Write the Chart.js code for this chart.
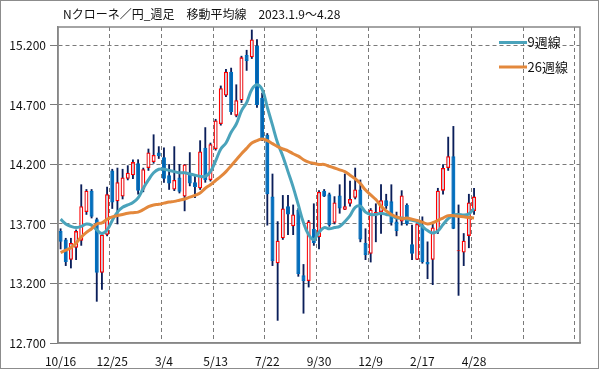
<!DOCTYPE html>
<html>
<head>
<meta charset="utf-8">
<script src="https://cdn.jsdelivr.net/npm/chart.js@4.4.1/dist/chart.umd.min.js"></script>
<style>
html,body{margin:0;padding:0;background:#fff;}
#wrap{width:599px;height:369px;position:relative;}
</style>
</head>
<body>
<div id="wrap"><canvas id="c" width="599" height="369"></canvas></div>
<script>
const titleText = 'Nクローネ／円_週足　移動平均線　2023.1.9～4.28';
const categories = ['10/16','10/23','10/30','11/6','11/13','11/20','11/27','12/4','12/11','12/18',
'12/25','1/1','1/8','1/15','1/22','1/29','2/5','2/12','2/19','2/26',
'3/4','3/11','3/18','3/25','4/1','4/8','4/15','4/22','4/29','5/6',
'5/13','5/20','5/27','6/3','6/10','6/17','6/24','7/1','7/8','7/15',
'7/22','7/29','8/5','8/12','8/19','8/26','9/2','9/9','9/16','9/23',
'9/30','10/7','10/14','10/21','10/28','11/4','11/11','11/18','11/25','12/2',
'12/9','12/16','12/23','12/30','1/6','1/13','1/20','1/27','2/3','2/10',
'2/17','2/24','3/2','3/9','3/16','3/23','3/30','4/6','4/13','4/20',
'4/28'];
const emptySlots = 20;
const yTicks = [12.7, 13.2, 13.7, 14.2, 14.7, 15.2];
const seriesNames = ['9週線', '26週線'];

const opens = [13.64,13.57,13.40,13.50,13.56,13.80,13.98,13.74,13.29,13.61,
14.15,13.89,13.93,14.08,14.11,14.21,13.99,14.17,14.22,14.30,
14.26,14.11,13.99,14.09,13.93,14.12,14.05,14.00,14.34,14.07,
14.33,14.54,14.78,14.98,14.61,14.74,15.12,15.10,15.20,14.76,
14.45,13.93,13.37,13.58,13.85,13.68,13.82,13.27,13.22,13.66,
13.59,13.98,13.95,13.71,13.94,13.82,13.87,13.92,13.99,13.54,
13.45,13.78,13.80,13.90,13.89,13.72,13.72,13.86,13.53,13.40,
13.69,13.38,13.40,13.64,13.98,14.17,14.27,13.47,13.46,13.60,
13.81];
const highs = [13.66,13.58,13.58,13.65,14.03,13.99,13.99,13.75,13.61,14.01,
14.16,14.17,14.16,14.19,14.24,14.24,14.17,14.33,14.45,14.35,
14.34,14.20,14.35,14.20,14.20,14.30,14.10,14.40,14.51,14.38,
14.58,14.86,15.00,15.01,14.87,15.11,15.16,15.33,15.25,14.80,
14.46,14.12,13.72,13.94,13.94,13.86,13.83,13.36,13.73,13.87,
13.98,13.99,13.96,13.93,14.03,14.12,14.06,14.17,14.07,13.66,
13.83,13.87,14.03,13.95,14.03,13.80,13.98,13.87,13.69,13.70,
13.76,13.55,13.70,14.00,14.20,14.43,14.52,13.86,13.62,13.95,
14.00];
const lows = [13.49,13.35,13.33,13.40,13.52,13.78,13.75,13.05,13.15,13.60,
13.83,13.70,13.91,14.07,14.08,13.95,13.97,14.15,14.21,14.25,
14.05,13.99,13.98,13.96,13.81,14.02,13.92,13.99,14.05,14.06,
14.32,14.53,14.77,14.62,14.60,14.72,14.99,15.09,14.68,14.40,
13.69,13.35,12.89,13.57,13.61,13.61,13.26,12.95,13.17,13.52,
13.49,13.93,13.68,13.70,13.79,13.82,13.85,13.91,13.55,13.40,
13.38,13.55,13.62,13.83,13.69,13.60,13.69,13.69,13.40,13.40,
13.37,13.24,13.19,13.62,13.95,14.15,13.66,13.10,13.35,13.50,
13.78];
const closes = [13.55,13.38,13.54,13.64,13.85,13.98,13.76,13.29,13.61,13.95,
13.88,14.05,14.09,14.13,14.22,13.98,14.16,14.30,14.28,14.27,
14.08,14.04,14.07,13.97,14.20,14.04,14.01,14.31,14.07,14.37,
14.57,14.84,14.98,14.64,14.74,15.10,15.07,15.25,14.70,14.42,
13.95,13.39,13.56,13.83,13.78,13.78,13.28,13.22,13.72,13.54,
13.97,13.93,13.69,13.88,13.83,13.85,13.91,13.99,13.57,13.44,
13.82,13.80,13.90,13.85,13.71,13.64,13.94,13.70,13.45,13.70,
13.38,13.36,13.67,13.98,14.17,14.27,13.66,13.48,13.56,13.88,
13.93];
const ma9 = [13.74,13.70,13.68,13.67,13.68,13.70,13.69,13.65,13.62,13.65,
13.73,13.80,13.84,13.86,13.88,13.92,14.00,14.07,14.13,14.16,
14.16,14.15,14.14,14.13,14.13,14.12,14.11,14.10,14.10,14.14,
14.23,14.33,14.38,14.47,14.54,14.65,14.72,14.83,14.87,14.83,
14.68,14.53,14.38,14.27,14.14,14.01,13.86,13.71,13.61,13.57,
13.63,13.67,13.66,13.67,13.68,13.72,13.77,13.84,13.85,13.80,
13.78,13.78,13.79,13.78,13.77,13.75,13.75,13.74,13.73,13.72,
13.68,13.645,13.625,13.64,13.695,13.745,13.775,13.78,13.775,13.785,
13.83];
const ma26 = [13.46,13.48,13.50,13.54,13.59,13.63,13.66,13.70,13.71,13.74,
13.76,13.77,13.78,13.79,13.795,13.80,13.82,13.845,13.86,13.865,
13.875,13.885,13.89,13.90,13.91,13.925,13.94,13.96,14.00,14.03,
14.065,14.10,14.14,14.19,14.24,14.29,14.335,14.38,14.40,14.415,
14.40,14.375,14.35,14.33,14.315,14.29,14.27,14.24,14.22,14.21,
14.20,14.20,14.185,14.17,14.155,14.14,14.11,14.08,14.04,13.985,
13.945,13.905,13.85,13.81,13.78,13.76,13.745,13.75,13.74,13.73,
13.715,13.70,13.71,13.73,13.75,13.77,13.77,13.765,13.76,13.755,
13.75];

const FONT = '"Noto Sans CJK JP", "Noto Sans", sans-serif';
const UP_LINE = '#FF0000', UP_FILL = '#FFFFFF', DOWN = '#0070C0', WICK = '#0A1E5A';
const C9 = '#4AA3BB', C26 = '#E3883C', GRID = '#7a7a7a', FRAME = '#868686';

const labels = categories.concat(Array(emptySlots).fill(''));
const isUp = opens.map((o, i) => closes[i] >= o);

const framePlugin = {
  id: 'frame',
  beforeDraw(chart) {
    const ctx = chart.ctx;
    ctx.save();
    ctx.fillStyle = '#fff';
    ctx.fillRect(0, 0, chart.width, chart.height);
    ctx.restore();
  },
  afterDraw(chart) {
    const ctx = chart.ctx, a = chart.chartArea;
    ctx.save();
    ctx.strokeStyle = '#8c8c8c';
    ctx.lineWidth = 1;
    ctx.strokeRect(0.5, 0.5, chart.width - 1, chart.height - 1);
    ctx.strokeStyle = FRAME;
    ctx.lineWidth = 1.5;
    ctx.strokeRect(a.left, a.top, a.right - a.left, a.bottom - a.top);
    // title
    ctx.fillStyle = '#111';
    ctx.font = '12px ' + FONT;
    ctx.textBaseline = 'middle';
    ctx.textAlign = 'left';
    ctx.fillText(titleText, 63, 14);
    // legend (inside plot, top-right), in series order
    seriesNames.forEach((name, k) => {
      const d = chart.data.datasets.find(ds => ds.label === name);
      const y = 42.5 + k * 24.5;
      ctx.strokeStyle = d.borderColor;
      ctx.lineWidth = 3;
      ctx.beginPath();
      ctx.moveTo(499, y);
      ctx.lineTo(527, y);
      ctx.stroke();
      ctx.fillStyle = '#111';
      ctx.font = '13px ' + FONT;
      ctx.fillText(d.label, 527.5, y);
    });
    ctx.restore();
  }
};

new Chart(document.getElementById('c'), {
  type: 'bar',
  data: {
    labels: labels,
    datasets: [
      {
        type: 'line', label: seriesNames[1], data: ma26,
        borderColor: C26, borderWidth: 3, pointRadius: 0, tension: 0.4,
        fill: false, order: 0
      },
      {
        type: 'line', label: seriesNames[0], data: ma9,
        borderColor: C9, borderWidth: 3, pointRadius: 0, tension: 0.4,
        fill: false, order: 1
      },
      {
        type: 'bar', label: 'body', data: opens.map((o, i) => [o, closes[i]]),
        backgroundColor: isUp.map(u => u ? UP_FILL : DOWN),
        borderColor: isUp.map(u => u ? UP_LINE : DOWN),
        borderWidth: 1.3, borderSkipped: false,
        barPercentage: 0.78, categoryPercentage: 1, grouped: false, order: 2
      },
      {
        type: 'bar', label: 'wick', data: lows.map((l, i) => [l, highs[i]]),
        backgroundColor: WICK, barThickness: 1.2, grouped: false, order: 3
      }
    ]
  },
  options: {
    responsive: false,
    animation: false,
    events: [],
    devicePixelRatio: 1,
    layout: { padding: { top: 27, right: 19, left: 0, bottom: 0 } },
    plugins: { legend: { display: false }, title: { display: false }, tooltip: { enabled: false } },
    scales: {
      x: {
        offset: true,
        ticks: {
          autoSkip: false, maxRotation: 0, minRotation: 0,
          callback: (v, i) => (i % 10 === 0 ? labels[i] : ''),
          font: { size: 12, family: FONT }, color: '#111', padding: 11
        },
        grid: {
          offset: true, drawTicks: false, lineWidth: 1,
          color: c => (c.index !== undefined && c.index % 10 === 0 && c.index > 0) ? GRID : 'rgba(0,0,0,0)'
        },
        border: { display: true, color: FRAME, width: 1.5, dash: [4, 3] },
        afterFit: s => { s.height = 26; }
      },
      y: {
        min: 12.7, max: 15.355,
        afterBuildTicks: s => { s.ticks = yTicks.map(v => ({ value: v })); },
        ticks: {
          callback: v => Number(v).toFixed(3),
          font: { size: 12, family: FONT }, color: '#111', padding: 4
        },
        grid: {
          lineWidth: 1, tickLength: 8, tickColor: GRID, tickBorderDash: [],
          color: c => (c.index === 0 ? 'rgba(0,0,0,0)' : GRID)
        },
        border: { display: true, color: FRAME, width: 1.5, dash: [4, 3] },
        afterFit: s => { s.width = 58; }
      }
    }
  },
  plugins: [framePlugin]
});
</script>
</body>
</html>
